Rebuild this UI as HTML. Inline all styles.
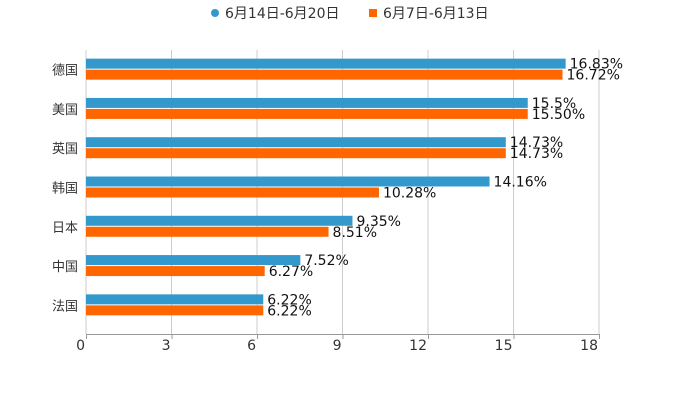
<!DOCTYPE html>
<html><head><meta charset="utf-8"><style>
body{margin:0;background:#fff;}
svg{font-family:"DejaVu Sans","Noto Sans CJK SC",sans-serif;}
</style></head><body>
<svg id="c" width="700" height="400">
<g>
<g><circle cx="215" cy="13" r="4" fill="#3399cc"/><text x="225" y="18" font-size="14" fill="#333">6月14日-6月20日</text></g>
<g><rect x="369" y="9" width="8" height="8" fill="#ff6600"/><text x="383" y="18" font-size="14" fill="#333">6月7日-6月13日</text></g>
</g>
<g id="grid"></g>
<g id="bars"></g>
<g id="ax"></g>
</svg>
<script>
const categories=["德国","美国","英国","韩国","日本","中国","法国"];
const seriesA=[16.83,15.5,14.73,14.16,9.35,7.52,6.22];
const labelsA=["16.83%","15.5%","14.73%","14.16%","9.35%","7.52%","6.22%"];
const seriesB=[16.72,15.50,14.73,10.28,8.51,6.27,6.22];
const labelsB=["16.72%","15.50%","14.73%","10.28%","8.51%","6.27%","6.22%"];
const ticks=[0,3,6,9,12,15,18];
const NS="http://www.w3.org/2000/svg";
const X0=86,X1=599,TOPY=50,BOTY=334;
const xs=v=>X0+(v/18)*(X1-X0);
const band=(BOTY-TOPY-9)/categories.length;
const yc=i=>TOPY+band*(i+0.5);
function mk(p,t,a){const e=document.createElementNS(NS,t);for(const k in a)e.setAttribute(k,a[k]);p.appendChild(e);return e;}
const g=document.getElementById('grid'),b=document.getElementById('bars'),ax=document.getElementById('ax');
ticks.forEach(t=>{
 const l=mk(g,'line',{x1:xs(t),x2:xs(t),y1:TOPY,y2:BOTY,stroke:'#ccc','stroke-width':1});
 
 
 const tk=mk(ax,'line',{x1:xs(t)+0.5,x2:xs(t)+0.5,y1:BOTY,y2:BOTY+5,stroke:'#999'});
 
 
 const tx=mk(ax,'text',{x:xs(t)-1,y:BOTY+16,'font-size':14,fill:'#333','text-anchor':'end'});
 tx.textContent=t;
 
 
});
const al=mk(ax,'line',{x1:X0,x2:X1+1,y1:BOTY+0.5,y2:BOTY+0.5,stroke:'#999'});


categories.forEach((c,i)=>{
 const y=yc(i);
 const t=mk(ax,'text',{x:78,y:y+5,'font-size':13,fill:'#333','text-anchor':'end'});
 t.textContent=c;
 
 
 const ra=mk(b,'rect',{x:X0,y:y-11,width:xs(seriesA[i])-X0,height:10,fill:'#3399cc'});
 
 
 const rb=mk(b,'rect',{x:X0,y:y,width:xs(seriesB[i])-X0,height:10,fill:'#ff6600'});
 
 
 const la=mk(b,'text',{x:xs(seriesA[i])+4,y:y-1,'font-size':14,fill:'#111'});
 la.textContent=labelsA[i];
 
 
 const lb=mk(b,'text',{x:xs(seriesB[i])+4,y:y+10,'font-size':14,fill:'#111'});
 lb.textContent=labelsB[i];
 
 
});
</script>
</body></html>
